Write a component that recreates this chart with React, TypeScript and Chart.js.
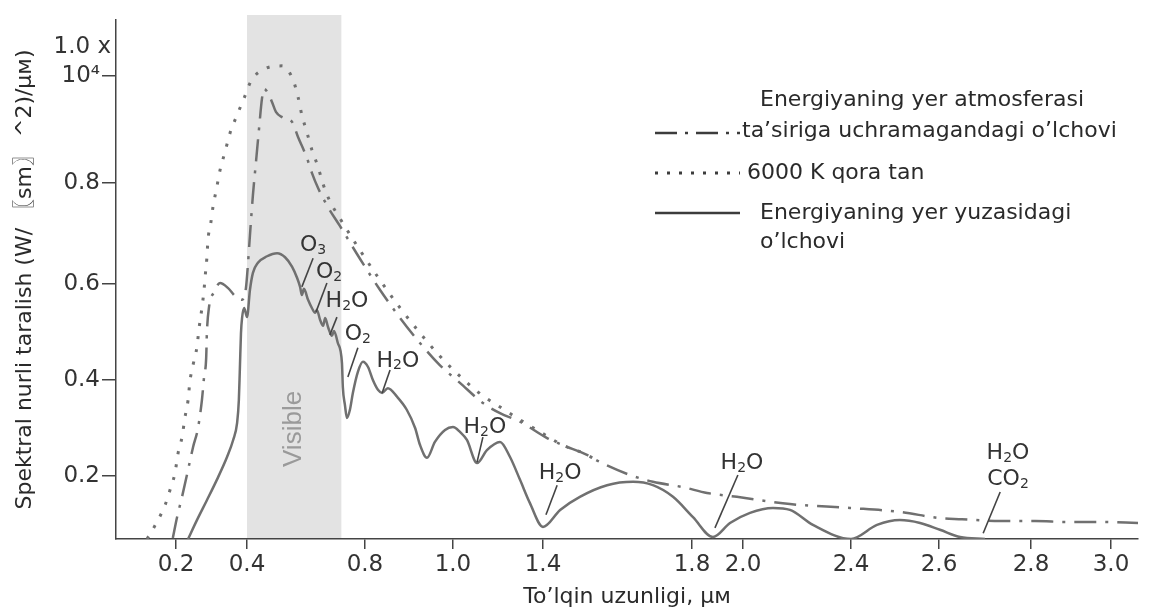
import React, { useEffect, useRef } from "react";
import { Chart, registerables, LinearScale } from "chart.js";

// ---------------- data (wavelength in µm, irradiance ×10⁴ W/(sm²·µm)) ----------------
const xTicks = [0.2, 0.4, 0.8, 1.0, 1.4, 1.8, 2.0, 2.4, 2.6, 2.8, 3.0];
const yTicks = [0.2, 0.4, 0.6, 0.8, 1.0];

// The printed axes are not evenly spaced: value -> fraction of axis length
const xAxisValues = [0.03, 0.2, 0.4, 0.8, 1.0, 1.4, 1.8, 2.0, 2.4, 2.6, 2.8, 3.0, 3.07];
const xAxisFractions = [0, 0.0587, 0.1282, 0.2436, 0.3297, 0.4178, 0.5636, 0.6135, 0.7192, 0.8053, 0.8953, 0.9736, 1];
const yAxisValues = [0.07, 0.2, 0.4, 0.6, 0.8, 1.0, 1.105];
const yAxisFractions = [0, 0.1214, 0.3064, 0.4913, 0.6859, 0.8921, 1];

// 6000 K black body (dotted)
const blackbodyX = [0.118, 0.149, 0.169, 0.183, 0.197, 0.206, 0.217, 0.225, 0.234, 0.239, 0.248, 0.259, 0.265, 0.273, 0.279, 0.282, 0.287, 0.29, 0.298, 0.304, 0.315, 0.324, 0.338, 0.352, 0.372, 0.392, 0.414, 0.458, 0.519, 0.556, 0.573, 0.586, 0.603, 0.62, 0.641, 0.658, 0.681, 0.712, 0.783, 0.834, 0.88, 0.925, 0.97, 1.031, 1.133, 1.222, 1.298, 1.387, 1.451, 1.507, 1.54];
const blackbodyY = [0.07, 0.109, 0.14, 0.171, 0.206, 0.248, 0.281, 0.321, 0.358, 0.396, 0.431, 0.469, 0.508, 0.55, 0.588, 0.614, 0.652, 0.687, 0.721, 0.752, 0.792, 0.824, 0.858, 0.893, 0.927, 0.959, 0.991, 1.013, 1.019, 0.993, 0.961, 0.927, 0.895, 0.862, 0.83, 0.798, 0.764, 0.733, 0.667, 0.608, 0.55, 0.498, 0.45, 0.408, 0.367, 0.34, 0.317, 0.292, 0.265, 0.248, 0.235];

// outside the atmosphere (dash-dot)
const extraterrestrialX = [0.191, 0.203, 0.217, 0.234, 0.248, 0.262, 0.273, 0.279, 0.285, 0.287, 0.293, 0.307, 0.324, 0.346, 0.369, 0.386, 0.397, 0.403, 0.41, 0.42, 0.431, 0.441, 0.451, 0.458, 0.471, 0.485, 0.498, 0.519, 0.553, 0.573, 0.603, 0.62, 0.641, 0.675, 0.715, 0.783, 0.834, 0.88, 0.925, 0.97, 1.031, 1.133, 1.209, 1.298, 1.411, 1.451, 1.518, 1.553, 1.634, 1.695, 1.776, 1.859, 1.976, 2.063, 2.174, 2.396, 2.511, 2.602, 2.65, 2.733, 2.81, 2.893, 2.973, 3.07];
const extraterrestrialY = [0.072, 0.115, 0.157, 0.213, 0.26, 0.3, 0.358, 0.406, 0.446, 0.498, 0.552, 0.583, 0.602, 0.592, 0.573, 0.567, 0.592, 0.638, 0.697, 0.776, 0.843, 0.903, 0.959, 0.976, 0.968, 0.951, 0.933, 0.923, 0.914, 0.886, 0.847, 0.819, 0.79, 0.752, 0.715, 0.65, 0.588, 0.529, 0.477, 0.431, 0.394, 0.352, 0.331, 0.313, 0.279, 0.265, 0.244, 0.229, 0.202, 0.188, 0.177, 0.165, 0.157, 0.15, 0.142, 0.134, 0.126, 0.113, 0.111, 0.107, 0.107, 0.105, 0.105, 0.103];

// at the Earth's surface (solid)
const surfaceX = [0.234, 0.259, 0.287, 0.315, 0.344, 0.361, 0.372, 0.377, 0.38, 0.383, 0.386, 0.392, 0.4, 0.41, 0.42, 0.437, 0.468, 0.502, 0.529, 0.553, 0.57, 0.58, 0.586, 0.593, 0.607, 0.62, 0.631, 0.637, 0.648, 0.658, 0.665, 0.675, 0.688, 0.695, 0.708, 0.722, 0.725, 0.732, 0.739, 0.749, 0.759, 0.776, 0.793, 0.807, 0.818, 0.83, 0.839, 0.852, 0.873, 0.895, 0.914, 0.925, 0.941, 0.959, 0.982, 1.0, 1.031, 1.062, 1.107, 1.151, 1.209, 1.253, 1.298, 1.342, 1.4, 1.446, 1.499, 1.572, 1.642, 1.695, 1.749, 1.804, 1.882, 1.949, 2.026, 2.111, 2.174, 2.259, 2.4, 2.459, 2.511, 2.557, 2.602, 2.646, 2.7];
const surfaceY = [0.07, 0.109, 0.15, 0.192, 0.24, 0.275, 0.31, 0.358, 0.427, 0.498, 0.529, 0.55, 0.531, 0.588, 0.622, 0.642, 0.655, 0.661, 0.653, 0.634, 0.612, 0.594, 0.577, 0.59, 0.567, 0.55, 0.54, 0.546, 0.525, 0.513, 0.529, 0.51, 0.492, 0.502, 0.477, 0.435, 0.385, 0.348, 0.321, 0.338, 0.373, 0.417, 0.438, 0.427, 0.4, 0.379, 0.373, 0.383, 0.365, 0.338, 0.3, 0.265, 0.238, 0.271, 0.296, 0.302, 0.292, 0.275, 0.227, 0.254, 0.271, 0.24, 0.192, 0.144, 0.095, 0.13, 0.157, 0.181, 0.188, 0.181, 0.157, 0.115, 0.074, 0.103, 0.124, 0.134, 0.13, 0.099, 0.07, 0.099, 0.109, 0.103, 0.089, 0.074, 0.07];

const visibleRange = [0.4, 0.72];

// absorption labels
const absorberNames = ["O3", "O2", "H2O", "O2", "H2O", "H2O", "H2O", "H2O", "H2O\nCO2"];
const absorberTextX = [0.624, 0.678, 0.739, 0.776, 0.875, 1.142, 1.446, 1.996, 2.75];
const absorberTextY = [0.677, 0.624, 0.563, 0.496, 0.44, 0.302, 0.206, 0.227, 0.248];
const absorberLineStartX = [0.624, 0.671, 0.705, 0.776, 0.857, 1.133, 1.438, 1.98, 2.733];
const absorberLineStartY = [0.651, 0.602, 0.531, 0.467, 0.421, 0.281, 0.181, 0.202, 0.167];
const absorberLineEndX = [0.586, 0.634, 0.681, 0.742, 0.839, 1.107, 1.408, 1.89, 2.696];
const absorberLineEndY = [0.594, 0.542, 0.494, 0.406, 0.373, 0.229, 0.12, 0.093, 0.082];

const legendLabels = [
  ["Energiyaning yer atmosferasi", "ta’siriga uchramagandagi o’lchovi"],
  ["6000 K qora tan"],
  ["Energiyaning yer yuzasidagi", "o’lchovi"],
];

// ---------------- helpers ----------------
function interp(xs: number[], ys: number[], v: number) {
  const n = xs.length;
  let i = 0;
  if (v <= xs[0]) i = 0;
  else if (v >= xs[n - 1]) i = n - 2;
  else {
    while (i < n - 2 && v > xs[i + 1]) i++;
  }
  const t = (v - xs[i]) / (xs[i + 1] - xs[i]);
  return ys[i] + t * (ys[i + 1] - ys[i]);
}

const WARPS: Record<string, { values: number[]; fractions: number[]; ticks: number[] }> = {
  x: { values: xAxisValues, fractions: xAxisFractions, ticks: xTicks },
  y: { values: yAxisValues, fractions: yAxisFractions, ticks: yTicks },
};

class WarpedLinearScale extends LinearScale {
  static id = "warpedLinear";
  static defaults = {};
  buildTicks() {
    super.buildTicks();
    const w = WARPS[(this as any).id];
    return w.ticks.map((v) => ({ value: v }));
  }
  getPixelForValue(value: number) {
    const w = WARPS[(this as any).id];
    return this.getPixelForDecimal(interp(w.values, w.fractions, value));
  }
  getValueForPixel(pixel: number) {
    const w = WARPS[(this as any).id];
    return interp(w.fractions, w.values, this.getDecimalForPixel(pixel));
  }
}

Chart.register(...registerables, WarpedLinearScale as any);

const toPoints = (xs: number[], ys: number[]) => xs.map((x, i) => ({ x, y: ys[i] }));

const SANS = '"Liberation Sans", Arial, sans-serif';
const DEJAVU = '"DejaVu Sans", "Noto Sans CJK SC", Verdana, sans-serif';
const LINE_GREY = "#707070";
const TEXT = "#2a2a2a";

function drawChem(ctx: CanvasRenderingContext2D, text: string, cx: number, cy: number) {
  const main = `22px ${DEJAVU}`;
  const sub = `14px ${DEJAVU}`;
  const chars = [...text];
  const widths = chars.map((ch) => {
    ctx.font = /[0-9]/.test(ch) ? sub : main;
    return ctx.measureText(ch).width;
  });
  const total = widths.reduce((a, b) => a + b, 0);
  let x = cx - total / 2;
  ctx.textAlign = "left";
  ctx.textBaseline = "middle";
  chars.forEach((ch, i) => {
    const isSub = /[0-9]/.test(ch);
    ctx.font = isSub ? sub : main;
    ctx.fillText(ch, x, isSub ? cy + 5 : cy);
    x += widths[i];
  });
}

const decorations = {
  id: "decorations",
  beforeDraw(chart: any) {
    const { ctx, chartArea } = chart;
    const xs = chart.scales.x;
    const ys = chart.scales.y;
    const x0 = xs.getPixelForValue(visibleRange[0]);
    const x1 = xs.getPixelForValue(visibleRange[1]);
    ctx.save();
    ctx.fillStyle = "#e3e3e3";
    ctx.fillRect(x0, chartArea.top - 5, x1 - x0, chartArea.bottom - chartArea.top + 4);
    ctx.translate((x0 + x1) / 2, ys.getPixelForValue(0.298));
    ctx.rotate(-Math.PI / 2);
    ctx.fillStyle = "#9a9a9a";
    ctx.font = `26px ${SANS}`;
    ctx.textAlign = "center";
    ctx.textBaseline = "middle";
    ctx.fillText("Visible", 0, 0);
    ctx.restore();
  },
  afterDraw(chart: any) {
    const { ctx } = chart;
    const xs = chart.scales.x;
    const ys = chart.scales.y;
    ctx.save();
    // "1.0 x" above the 10⁴ label
    ctx.fillStyle = "#333";
    ctx.font = `23px ${DEJAVU}`;
    ctx.textAlign = "right";
    ctx.textBaseline = "middle";
    ctx.fillText("1.0 x", ys.right - 5, ys.getPixelForValue(1.0) - 29);

    // absorption annotations
    ctx.strokeStyle = "#444";
    ctx.lineWidth = 1.6;
    ctx.fillStyle = "#333";
    absorberNames.forEach((name, i) => {
      ctx.beginPath();
      ctx.moveTo(xs.getPixelForValue(absorberLineStartX[i]), ys.getPixelForValue(absorberLineStartY[i]));
      ctx.lineTo(xs.getPixelForValue(absorberLineEndX[i]), ys.getPixelForValue(absorberLineEndY[i]));
      ctx.stroke();
      const tx = xs.getPixelForValue(absorberTextX[i]);
      const ty = ys.getPixelForValue(absorberTextY[i]);
      name.split("\n").forEach((line, k) => drawChem(ctx, line, tx, ty + k * 26));
    });

    // legend
    const symX0 = 655;
    const symX1 = 740;
    const styles = [
      { dash: [22, 8, 3, 8], width: 2.5 },
      { dash: [3, 9], width: 3 },
      { dash: [], width: 2.5 },
    ];
    const symY = [133, 173, 213];
    const textRows = [
      [{ x: 760, y: 100 }, { x: 742, y: 131 }],
      [{ x: 747, y: 173 }],
      [{ x: 760, y: 213 }, { x: 760, y: 242 }],
    ];
    ctx.strokeStyle = "#3c3c3c";
    styles.forEach((s, i) => {
      ctx.setLineDash(s.dash);
      ctx.lineWidth = s.width;
      ctx.beginPath();
      ctx.moveTo(symX0, symY[i]);
      ctx.lineTo(symX1, symY[i]);
      ctx.stroke();
    });
    ctx.setLineDash([]);
    ctx.fillStyle = TEXT;
    ctx.font = `22px ${DEJAVU}`;
    ctx.textAlign = "left";
    ctx.textBaseline = "middle";
    legendLabels.forEach((lines, i) => {
      lines.forEach((line, k) => ctx.fillText(line, textRows[i][k].x, textRows[i][k].y));
    });
    ctx.restore();
  },
};

export default function App() {
  const ref = useRef<HTMLCanvasElement | null>(null);
  useEffect(() => {
    if (!ref.current) return;
    const chart = new Chart(ref.current, {
      type: "line",
      data: {
        datasets: [
          {
            label: "Energiyaning yer atmosferasi ta’siriga uchramagandagi o’lchovi",
            data: toPoints(extraterrestrialX, extraterrestrialY),
            borderColor: LINE_GREY,
            borderWidth: 2.5,
            borderDash: [22, 9, 3, 9],
            pointRadius: 0,
            fill: false,
            cubicInterpolationMode: "monotone",
          },
          {
            label: "6000 K qora tan",
            data: toPoints(blackbodyX, blackbodyY),
            borderColor: LINE_GREY,
            borderWidth: 3,
            borderDash: [3, 10],
            pointRadius: 0,
            fill: false,
            cubicInterpolationMode: "monotone",
          },
          {
            label: "Energiyaning yer yuzasidagi o’lchovi",
            data: toPoints(surfaceX, surfaceY),
            borderColor: LINE_GREY,
            borderWidth: 2.5,
            pointRadius: 0,
            fill: false,
            cubicInterpolationMode: "monotone",
          },
        ],
      },
      options: {
        animation: false,
        responsive: false,
        devicePixelRatio: 1,
        events: [],
        layout: { padding: { top: 20, right: 14, left: 0, bottom: 0 } },
        plugins: { legend: { display: false }, tooltip: { enabled: false } },
        scales: {
          x: {
            type: "warpedLinear" as any,
            min: xAxisValues[0],
            max: xAxisValues[xAxisValues.length - 1],
            afterFit: (s: any) => {
              s.height = 74;
            },
            border: { display: true, color: "#444", width: 1.5 },
            grid: { drawOnChartArea: false, drawTicks: true, tickLength: 10, color: "#444", lineWidth: 1.5 },
            ticks: {
              autoSkip: false,
              maxRotation: 0,
              padding: 2,
              color: "#333",
              font: { family: DEJAVU, size: 23 },
              callback: (v: any) => Number(v).toFixed(1),
            },
            title: {
              display: true,
              text: "To’lqin uzunligi, µм",
              color: TEXT,
              font: { family: DEJAVU, size: 22 },
              padding: { top: 0, bottom: 3 },
            },
          },
          y: {
            type: "warpedLinear" as any,
            min: yAxisValues[0],
            max: yAxisValues[yAxisValues.length - 1],
            afterFit: (s: any) => {
              s.width = 116;
            },
            border: { display: true, color: "#444", width: 1.5 },
            grid: { drawOnChartArea: false, drawTicks: true, tickLength: 14, color: "#444", lineWidth: 1.5 },
            ticks: {
              autoSkip: false,
              padding: 2,
              color: "#333",
              font: { family: DEJAVU, size: 23 },
              callback: (v: any) => (Number(v) === 1 ? "10⁴" : Number(v).toFixed(1)),
            },
            title: {
              display: true,
              text: "Spektral nurli taralish (W/ 〖sm〗 ^2)/μм)",
              color: TEXT,
              font: { family: DEJAVU, size: 22 },
              padding: { top: 12, bottom: 0 },
            },
          },
        },
      },
      plugins: [decorations],
    });
    return () => chart.destroy();
  }, []);
  return (
    <canvas
      ref={ref}
      width={1152}
      height={613}
      style={{ position: "fixed", left: 0, top: 0, width: 1152, height: 613, display: "block", background: "#fff" }}
    />
  );
}
